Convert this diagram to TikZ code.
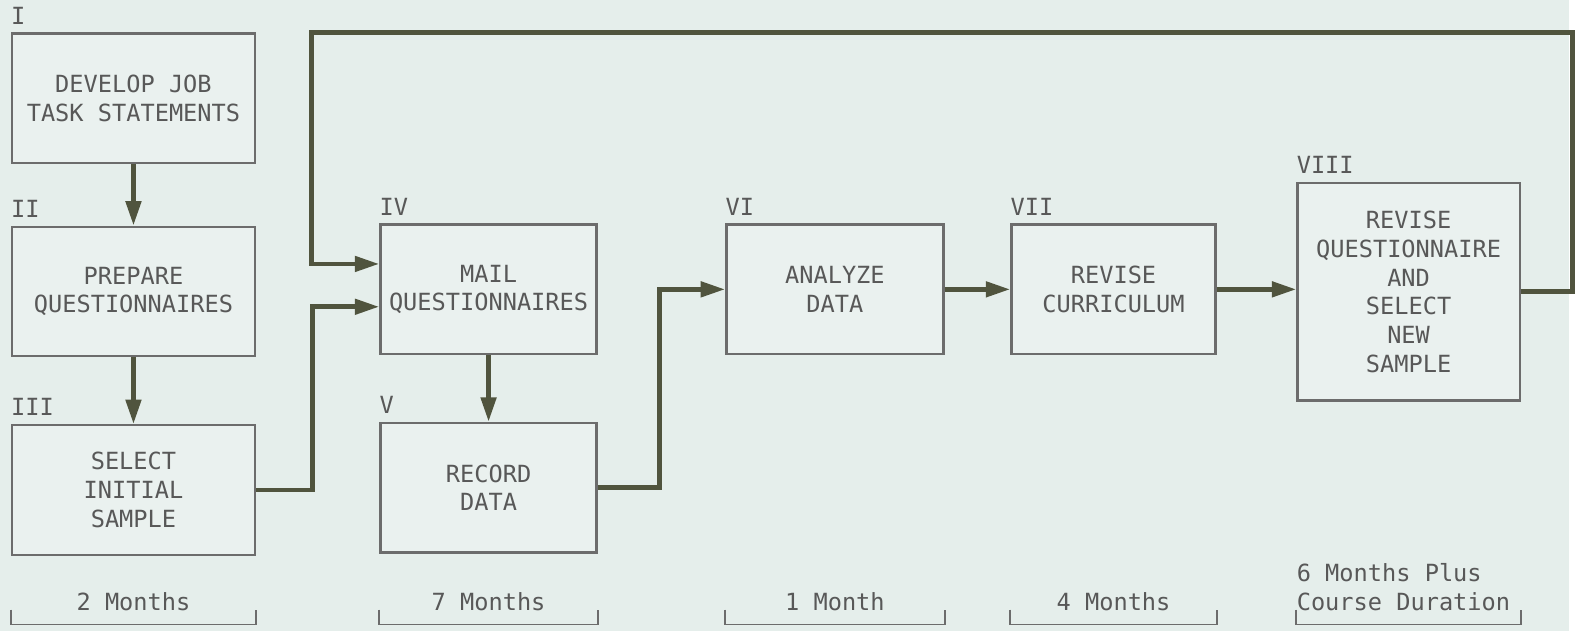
\documentclass[tikz,border=0pt]{standalone}
\usepackage{fontspec}
\setmonofont{DejaVu Sans Mono}
\usetikzlibrary{arrows.meta, positioning, calc}
\definecolor{paper}{RGB}{229,238,235}
\definecolor{boxfill}{RGB}{234,241,239}
\definecolor{boxline}{RGB}{108,108,108}
\definecolor{flowline}{RGB}{80,84,62}
\definecolor{inkgray}{RGB}{88,88,88}

\begin{document}
\begin{tikzpicture}[x=0.02cm, y=-0.02cm,
  BX/.style ={draw=boxline, fill=boxfill, line width=1.3pt, inner sep=0pt,
              minimum width=4.34cm, minimum height=2.6cm, align=center,
              text=inkgray, font=\ttfamily\fontsize{13.5}{16.4}\selectfont},
  NUM/.style={inner sep=0pt, text=inkgray, font=\ttfamily\fontsize{13.5}{16.4}\selectfont},
  DU/.style ={inner sep=0pt, text=inkgray, font=\ttfamily\fontsize{13.5}{16.4}\selectfont},
  AR/.style ={-{Triangle[length=14pt, width=8.5pt]}, line width=2.8pt, flowline},
  BR/.style ={draw=boxline, line width=1.1pt}
]
  % paper
  \fill[paper] (0,0) rectangle (1575,634);

  % left column
  \node[BX, minimum width=4.88cm] (dev) at (134,98.5) {DEVELOP JOB\\TASK STATEMENTS};
  \node[BX, minimum width=4.88cm, below=1.24cm of dev] (prep) {PREPARE\\QUESTIONNAIRES};
  \node[BX, minimum width=4.88cm, below=1.34cm of prep] (sel) {SELECT\\INITIAL\\SAMPLE};

  % mailing
  \node[BX] (mail) at (490.5,290.5) {MAIL\\QUESTIONNAIRES};
  \node[BX, below=1.34cm of mail] (rec) {RECORD\\DATA};

  % analysis and revision
  \node[BX, minimum width=4.36cm, right=2.56cm of mail] (analyze) {ANALYZE\\DATA};
  \node[BX, minimum width=4.1cm, right=1.32cm of analyze] (revise) {REVISE\\CURRICULUM};
  \node[BX, minimum width=4.46cm, minimum height=4.36cm, right=1.6cm of revise,
        yshift=-0.05cm] (final)
    {REVISE\\QUESTIONNAIRE\\AND\\SELECT\\NEW\\SAMPLE};

  % step numbers
  \foreach \n/\r in {dev/I, prep/II, sel/III, mail/IV, rec/V, analyze/VI, revise/VII, final/VIII}
    \node[NUM, above right=4.5pt and 0pt of \n.north west] (num-\n) {\r};

  % flow
  \coordinate (fbtop) at (313,33);
  \draw[AR] (dev) -- (prep);
  \draw[AR] (prep) -- (sel);
  \draw[AR] (sel.east) -- ++(1.14cm,0) |- ($(mail.west)+(0,-0.35cm)$);
  \draw[AR] (mail) -- (rec);
  \draw[AR] (rec.east) -- ++(1.24cm,0) |- (analyze.west);
  \draw[AR] (analyze) -- (revise);
  \draw[AR] (revise.east) -- (revise.east -| final.west);
  \draw[AR] (final.east) -- ++(1.04cm,0) |- (fbtop) |- ($(mail.west)+(0,0.51cm)$);

  % durations
  \coordinate (brtop) at (0,612);
  \coordinate (brbot) at (0,627);
  \coordinate (brlab) at (0,604);
  \coordinate (brmid) at (0,589.5);
  \foreach \n in {dev, mail, analyze, revise, final}
    \draw[BR] (\n.west |- brtop) -- (\n.west |- brbot) -- (\n.east |- brbot) -- (\n.east |- brtop);
  \foreach \n/\t in {dev/2 Months, mail/7 Months, analyze/1 Month, revise/4 Months}
    \node[DU] (dur-\n) at (\n |- brlab) {\t};
  \node[DU, align=left, anchor=west] (dur-final) at (final.west |- brmid)
    {6 Months Plus\\Course Duration};
\end{tikzpicture}
\end{document}
